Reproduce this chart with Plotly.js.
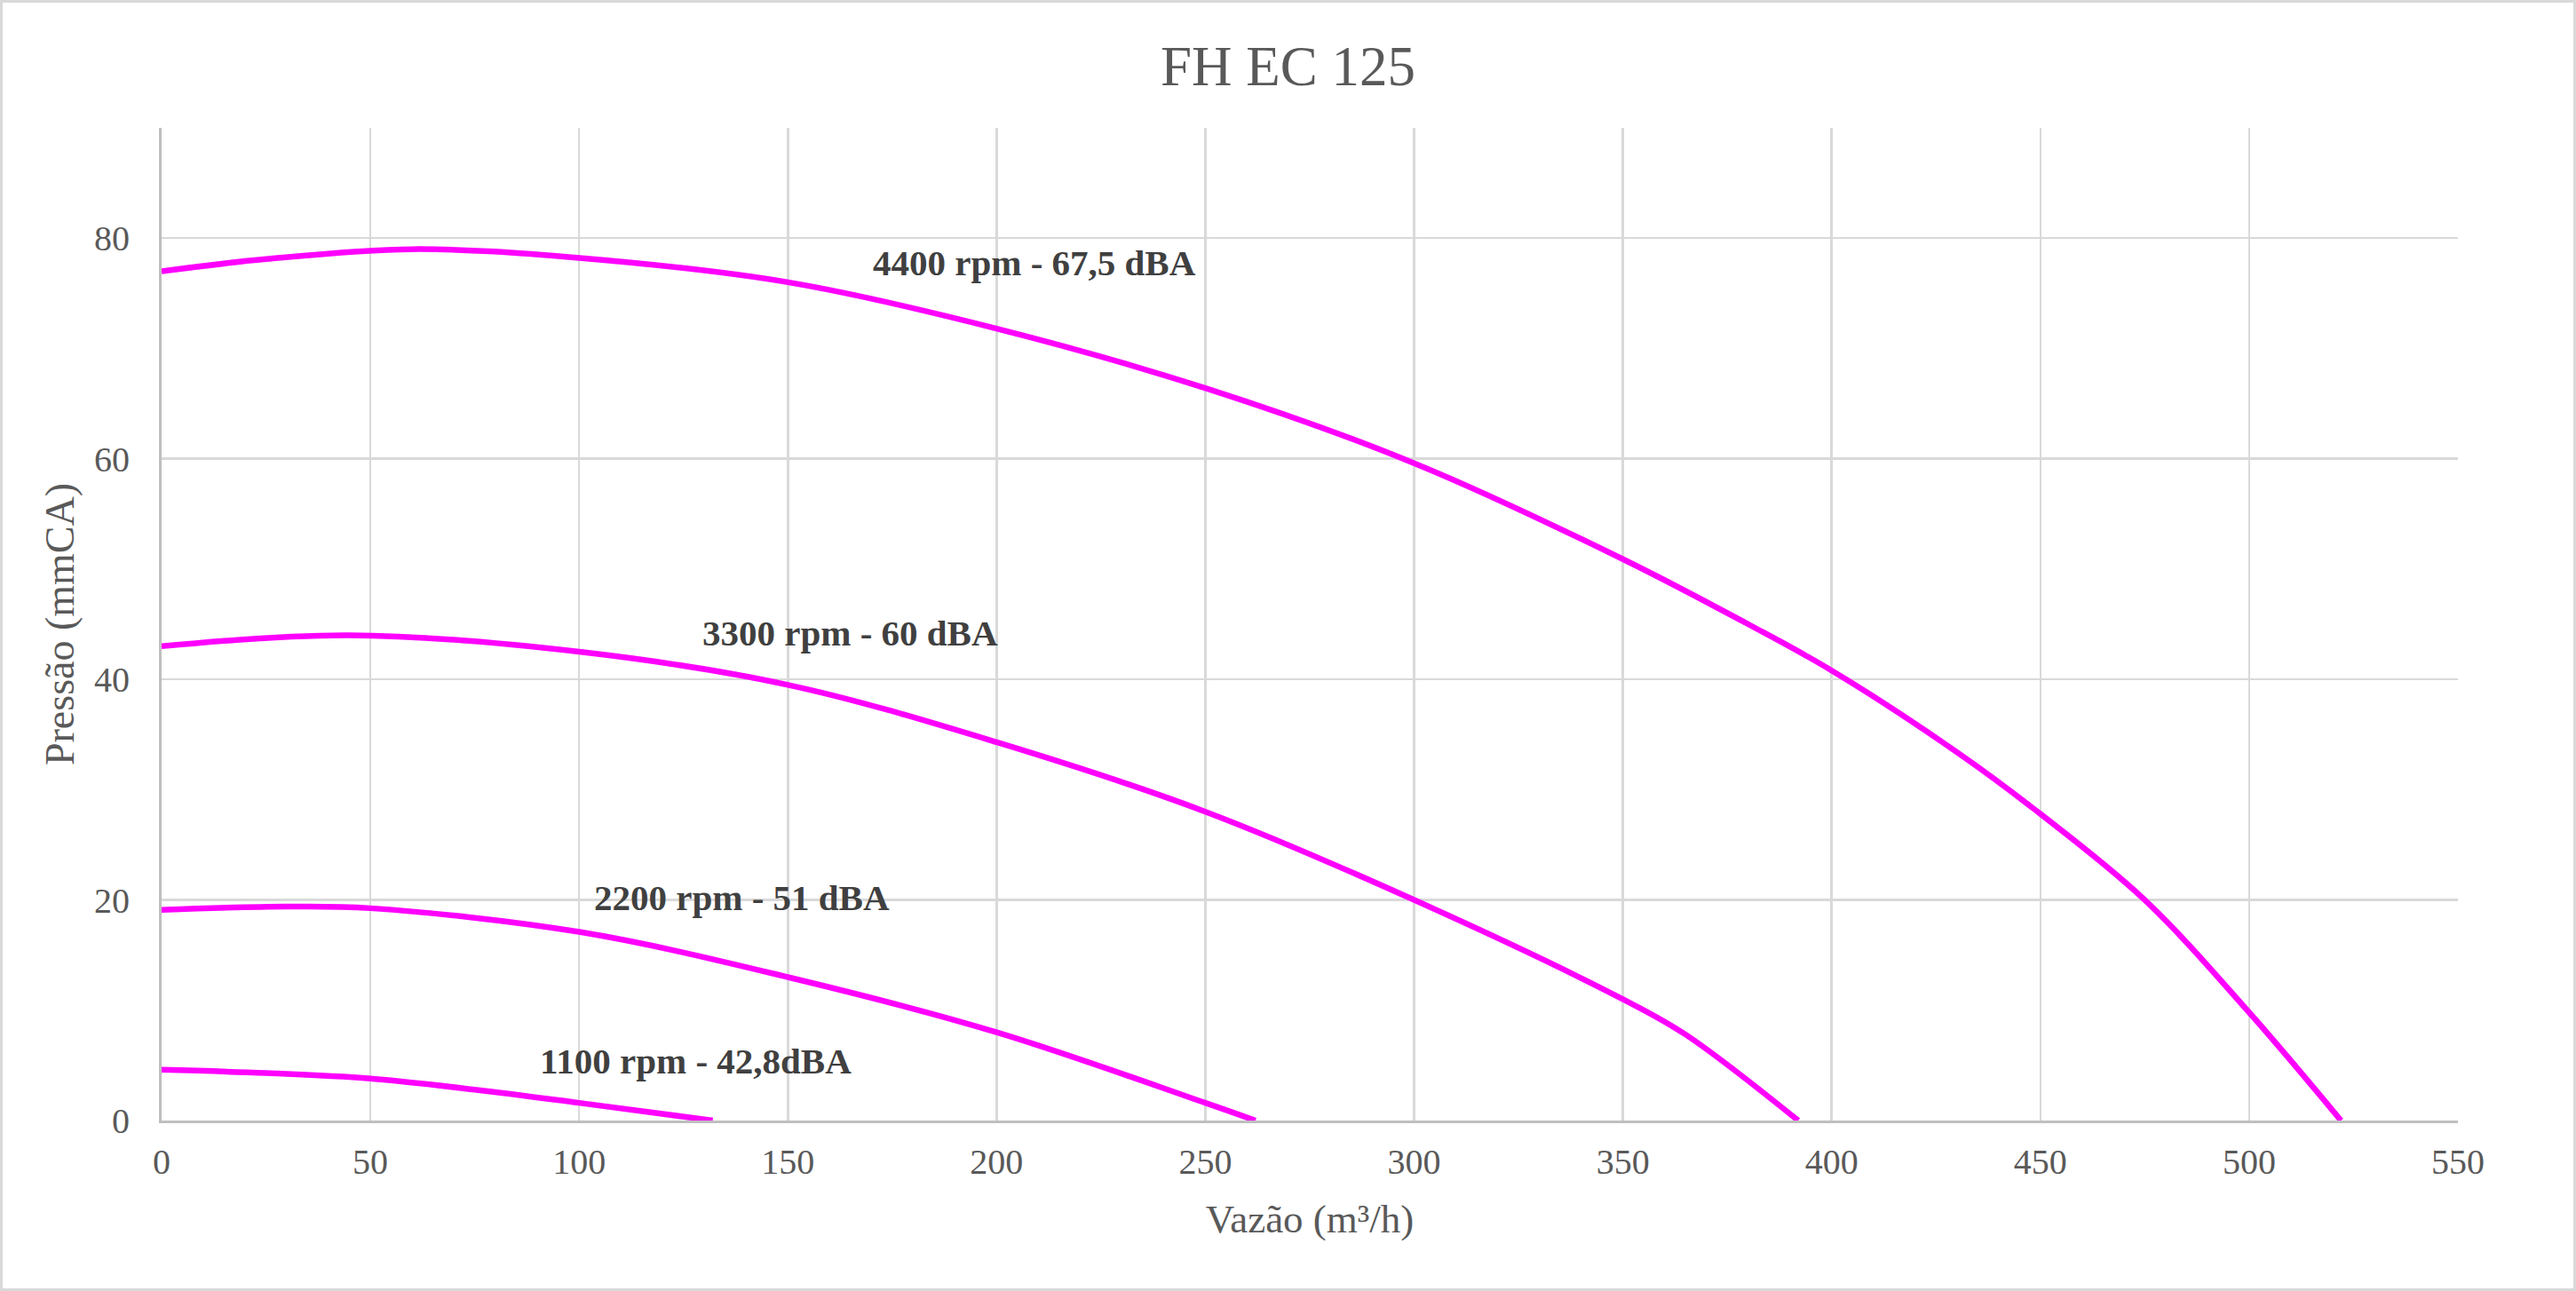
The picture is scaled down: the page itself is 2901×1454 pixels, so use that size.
<!DOCTYPE html>
<html>
<head>
<meta charset="utf-8">
<script src="https://cdn.plot.ly/plotly-3.0.1.min.js"></script>
<style>
  body { margin: 0; background: #fff; }
  #wrap { position: relative; width: 2901px; height: 1454px; }
  #chart { width: 2901px; height: 1454px; }
  #frame { position: absolute; left: 0; top: 0; width: 2901px; height: 1454px;
           box-sizing: border-box; border: 3px solid #d9d9d9; pointer-events: none; }
</style>
</head>
<body>
<div id="wrap">
  <div id="chart"></div>
  <div id="frame"></div>
</div>
<script>
// fan curves, flow in m3/h, pressure in mmCA
const flow4400 = [0, 25, 60, 100, 150, 200, 250, 300, 350, 380, 400, 430, 450, 475, 500, 522];
const press4400 = [77, 78.1, 79, 78.2, 76, 71.8, 66.4, 59.6, 50.9, 45.0, 40.8, 33.4, 27.8, 20, 9.8, 0];

const flow3300 = [0, 45, 100, 150, 200, 250, 300, 350, 365, 392];
const press3300 = [43, 44, 42.5, 39.5, 34.3, 28, 20, 11, 7.8, 0];

const flow2200 = [0, 30, 50, 100, 150, 200, 250, 262];
const press2200 = [19.1, 19.4, 19.25, 17.1, 13.0, 8, 1.6, 0];

const flow1100 = [0, 25, 50, 75, 100, 132];
const press1100 = [4.6, 4.3, 3.8, 2.8, 1.6, 0];

const labels = ["4400 rpm - 67,5 dBA", "3300 rpm - 60 dBA", "2200 rpm - 51 dBA", "1100 rpm - 42,8dBA"];
const labelX = [209, 165, 139, 128];
const labelY = [77.8, 44.2, 20.2, 5.4];

const serif = "'Liberation Serif', 'Times New Roman', serif";
const magenta = "#FF00FF";

function curve(x, y, name) {
    return {
        type: "scatter",
        mode: "lines",
        name: name,
        x: x,
        y: y,
        line: {color: magenta, width: 6.5, shape: "spline", smoothing: 1},
        hoverinfo: "x+y",
    };
}

const data = [
    curve(flow4400, press4400, labels[0]),
    curve(flow3300, press3300, labels[1]),
    curve(flow2200, press2200, labels[2]),
    curve(flow1100, press1100, labels[3]),
];

const annotations = labels.map((t, i) => ({
    text: "<b>" + t + "</b>",
    x: labelX[i],
    y: labelY[i],
    xref: "x",
    yref: "y",
    showarrow: false,
    xanchor: "center",
    yanchor: "middle",
    font: {family: serif, size: 41, color: "#404040"},
}));

const layout = {
    width: 2901,
    height: 1454,
    showlegend: false,
    paper_bgcolor: "#ffffff",
    plot_bgcolor: "#ffffff",
    margin: {l: 182, r: 133, t: 144, b: 192},
    font: {family: serif, color: "#595959"},
    title: {
        text: "FH EC 125",
        font: {family: serif, size: 63, color: "#595959"},
        x: 0.5,
        xanchor: "center",
        yref: "container",
        y: 1 - 74 / 1454,
        yanchor: "middle",
    },
    xaxis: {
        range: [0, 550],
        dtick: 50,
        tick0: 0,
        showgrid: true,
        gridcolor: "#d9d9d9",
        gridwidth: 2.5,
        zeroline: false,
        showline: true,
        linecolor: "#bfbfbf",
        linewidth: 3,
        ticks: "",
        ticklabelstandoff: 9,
        tickfont: {family: serif, size: 40, color: "#595959"},
        automargin: false,
        title: {
            text: "Vazão (m³/h)",
            font: {family: serif, size: 45, color: "#595959"},
            standoff: 27,
        },
    },
    yaxis: {
        range: [0, 90],
        dtick: 20,
        tick0: 0,
        showgrid: true,
        gridcolor: "#d9d9d9",
        gridwidth: 2.5,
        zeroline: false,
        showline: true,
        linecolor: "#bfbfbf",
        linewidth: 3,
        ticks: "",
        ticklabelstandoff: 25,
        tickfont: {family: serif, size: 40, color: "#595959"},
        automargin: false,
        title: {
            text: "Pressão (mmCA)",
            font: {family: serif, size: 46, color: "#595959"},
            standoff: 8,
        },
    },
    annotations: annotations,
};

Plotly.newPlot("chart", data, layout, {displayModeBar: false, staticPlot: true});
</script>
</body>
</html>
